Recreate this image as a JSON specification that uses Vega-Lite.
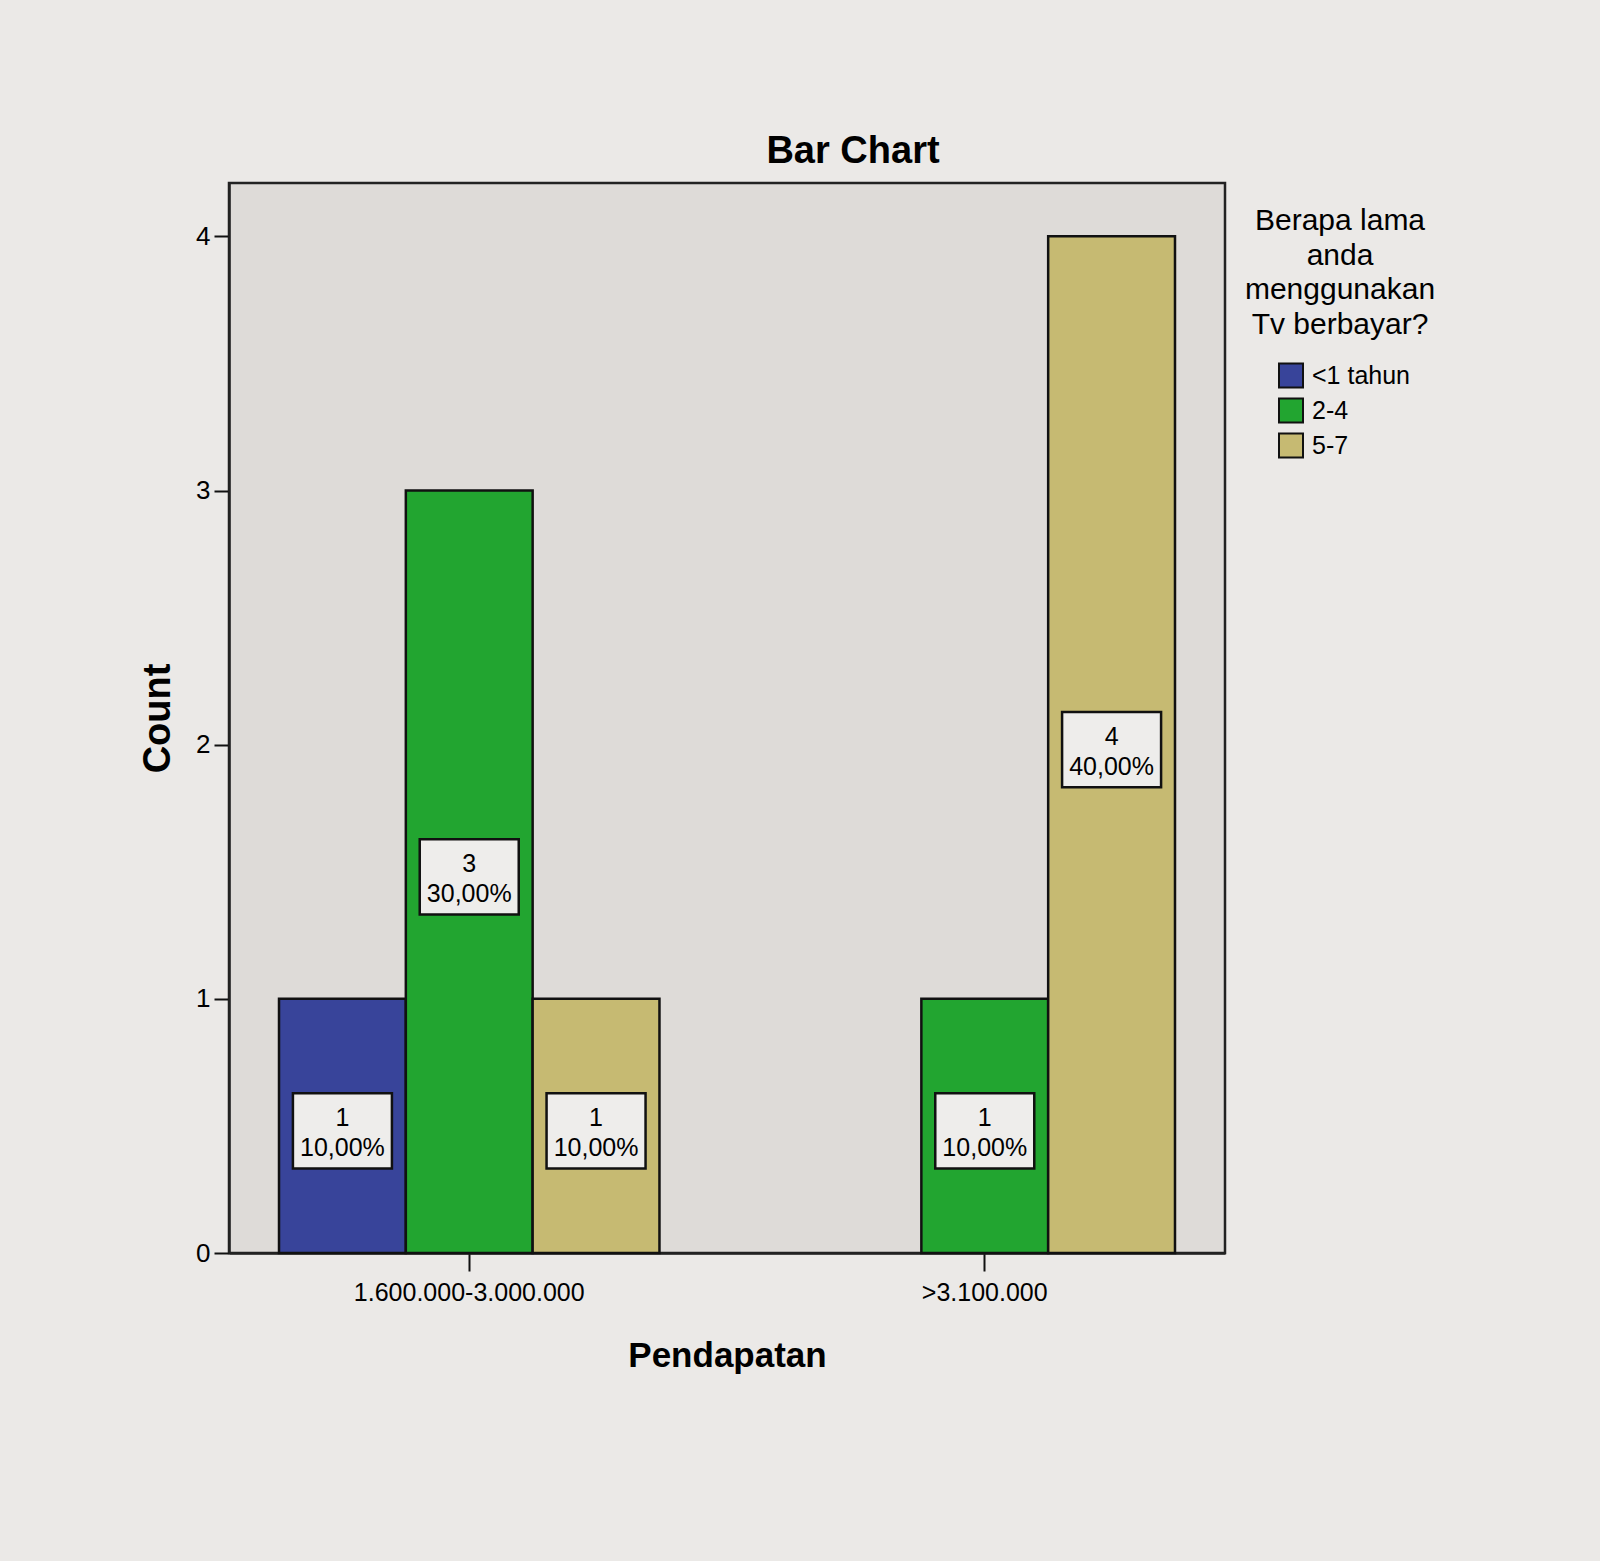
{
  "$schema": "https://vega.github.io/schema/vega-lite/v6.json",
  "autosize": {"type": "none"},
  "padding": {"left": 229, "top": 183, "right": 375, "bottom": 308},
  "width": 996,
  "height": 1070,
  "background": "#ebe9e7",
  "title": {
    "text": "Bar Chart",
    "fontSize": 38,
    "fontWeight": "bold",
    "color": "#000000",
    "anchor": "middle",
    "frame": "group",
    "dx": 126,
    "dy": 38,
    "baseline": "alphabetic",
    "offset": 20
  },
  "data": {
    "values": [
      {"pendapatan": "1.600.000-3.000.000", "lama": "<1 tahun", "count": 1, "pct": "10,00%"},
      {"pendapatan": "1.600.000-3.000.000", "lama": "2-4", "count": 3, "pct": "30,00%"},
      {"pendapatan": "1.600.000-3.000.000", "lama": "5-7", "count": 1, "pct": "10,00%"},
      {"pendapatan": ">3.100.000", "lama": "2-4", "count": 1, "pct": "10,00%"},
      {"pendapatan": ">3.100.000", "lama": "5-7", "count": 4, "pct": "40,00%"}
    ]
  },
  "transform": [
    {"calculate": "datum.count / 2", "as": "mid"},
    {"calculate": "datum.count + '\\n' + datum.pct", "as": "label"}
  ],
  "encoding": {
    "x": {
      "field": "pendapatan",
      "type": "nominal",
      "sort": ["1.600.000-3.000.000", ">3.100.000"],
      "scale": {"type": "band", "paddingInner": 0.262, "paddingOuter": 0.097},
      "axis": {
        "title": "Pendapatan",
        "titleFontSize": 35,
        "titleFontWeight": "bold",
        "titleColor": "#000000",
        "titleX": 498,
        "titleY": 113,
        "titleBaseline": "alphabetic",
        "labelAngle": 0,
        "labelLimit": 0,
        "labelFontSize": 25,
        "labelColor": "#000000",
        "labelBaseline": "alphabetic",
        "labelPadding": 29,
        "tickSize": 18,
        "tickWidth": 2,
        "tickColor": "#111111",
        "domainColor": "#222222",
        "domainWidth": 2.5
      }
    },
    "xOffset": {
      "field": "lama",
      "type": "nominal",
      "scale": {"domain": ["<1 tahun", "2-4", "5-7"], "paddingInner": 0, "paddingOuter": 0}
    }
  },
  "layer": [
    {
      "mark": {"type": "bar", "stroke": "#111111", "strokeWidth": 2.5, "opacity": 1},
      "encoding": {
        "y": {
          "field": "count",
          "type": "quantitative",
          "scale": {"domain": [0, 4.21], "nice": false},
          "axis": {
            "title": "Count",
            "titleFontSize": 38,
            "titleFontWeight": "bold",
            "titleColor": "#000000",
            "titleAngle": -90,
            "titleX": -60,
            "titleY": 535,
            "titleBaseline": "alphabetic",
            "values": [0, 1, 2, 3, 4],
            "format": "d",
            "grid": false,
            "labelFontSize": 26,
            "labelColor": "#000000",
            "labelPadding": 4,
            "tickSize": 15,
            "tickWidth": 2,
            "tickColor": "#111111",
            "domainColor": "#222222",
            "domainWidth": 2.5
          }
        },
        "color": {
          "field": "lama",
          "type": "nominal",
          "scale": {"domain": ["<1 tahun", "2-4", "5-7"], "range": ["#38449a", "#22a530", "#c6ba72"]},
          "legend": {
            "orient": "none",
            "legendX": 1016,
            "legendY": 23,
            "padding": 0,
            "title": ["Berapa lama", "anda", "menggunakan", "Tv berbayar?"],
            "titleLimit": 0,
            "titleFontSize": 30,
            "titleFontWeight": "normal",
            "titleColor": "#000000",
            "titleLineHeight": 34.5,
            "titleAlign": "center",
            "titleAnchor": "middle",
            "titlePadding": 23,
            "symbolType": "square",
            "symbolSize": 576,
            "symbolStrokeColor": "#111111",
            "symbolStrokeWidth": 2,
            "symbolOpacity": 1,
            "symbolOffset": 8,
            "labelFontSize": 25,
            "labelLimit": 0,
            "labelColor": "#000000",
            "labelOffset": 8,
            "rowPadding": 3
          }
        }
      }
    },
    {
      "mark": {
        "type": "point",
        "shape": "M-1,-0.76L1,-0.76L1,0.76L-1,0.76Z",
        "size": 9801,
        "filled": true,
        "fill": "#eeedeb",
        "stroke": "#111111",
        "strokeWidth": 2.5,
        "opacity": 1,
        "yOffset": 5
      },
      "encoding": {
        "y": {"field": "mid", "type": "quantitative"}
      }
    },
    {
      "mark": {
        "type": "text",
        "fontSize": 25,
        "lineHeight": 30,
        "lineBreak": "\n",
        "baseline": "middle",
        "align": "center",
        "color": "#000000",
        "yOffset": -8
      },
      "encoding": {
        "y": {"field": "mid", "type": "quantitative"},
        "text": {"field": "label", "type": "nominal"}
      }
    }
  ],
  "config": {
    "font": "Liberation Sans",
    "view": {"fill": "#dedbd8", "stroke": "#222222", "strokeWidth": 2.5}
  }
}
